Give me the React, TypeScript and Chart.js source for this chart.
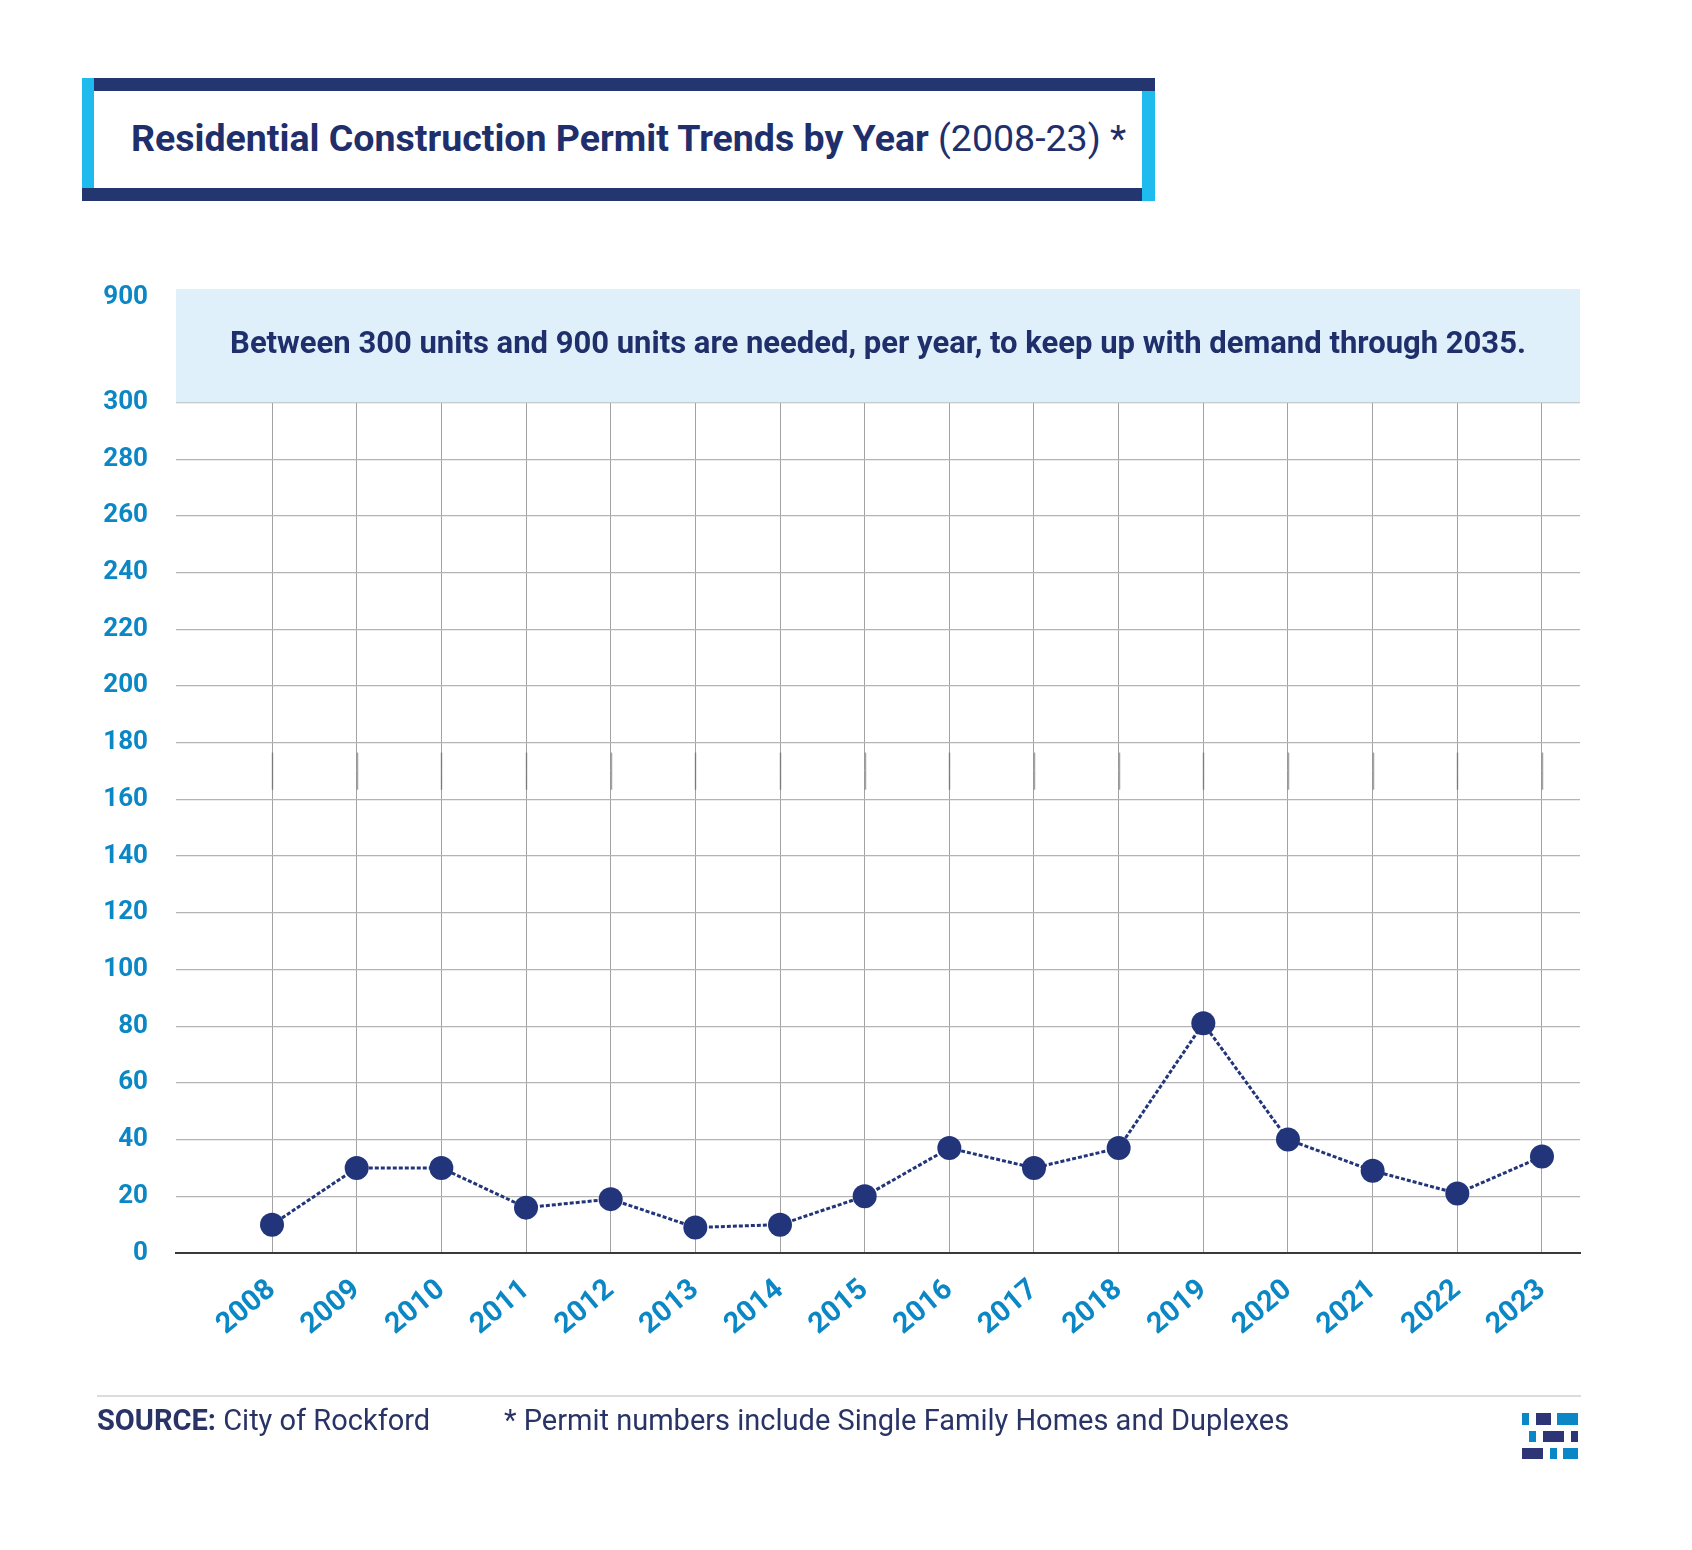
import React, { useEffect, useRef } from "react";
import { Chart, registerables } from "chart.js";

Chart.register(...registerables);

const years = [2008, 2009, 2010, 2011, 2012, 2013, 2014, 2015, 2016, 2017, 2018, 2019, 2020, 2021, 2022, 2023];
const permits = [10, 30, 30, 16, 19, 9, 10, 20, 37, 30, 37, 81, 40, 29, 21, 34];
const yTickValues = [0, 20, 40, 60, 80, 100, 120, 140, 160, 180, 200, 220, 240, 260, 280, 300];
const bandTopValue = 340;
const bandLabelValue = 337;
const bandTopLabel = "900";
const bandText = "Between 300 units and 900 units are needed, per year, to keep up with demand through 2035.";
const markFrom = 163.4;
const markTo = 176.5;

const NAVY = "#22357a";
const TEXT_NAVY = "#1f2f6b";
const TICK_BLUE = "#0a87c4";
const CYAN = "#1fbbef";
const FONT = "Roboto, 'Noto Sans', sans-serif";

const bandPlugin = {
  id: "band",
  beforeDatasetsDraw(chart: any) {
    const { ctx, chartArea, scales } = chart;
    const y300 = scales.y.getPixelForValue(300);
    ctx.save();
    // darker segments on vertical grid lines (as in the source image)
    ctx.strokeStyle = "rgba(90,90,90,0.55)";
    ctx.lineWidth = 1.5;
    const ya = scales.y.getPixelForValue(markFrom);
    const yb = scales.y.getPixelForValue(markTo);
    years.forEach((yr) => {
      const x = Math.round(scales.x.getPixelForValue(yr)) + 0.5;
      ctx.beginPath();
      ctx.moveTo(x, ya);
      ctx.lineTo(x, yb);
      ctx.stroke();
    });
    ctx.fillStyle = "#dff0fb";
    ctx.fillRect(chartArea.left, chartArea.top, chartArea.right - chartArea.left, y300 - chartArea.top);
    ctx.fillStyle = TEXT_NAVY;
    ctx.font = `bold 31px ${FONT}`;
    ctx.textAlign = "center";
    ctx.textBaseline = "middle";
    ctx.fillText(bandText, (chartArea.left + chartArea.right) / 2, (chartArea.top + y300) / 2);
    ctx.restore();
  },
};

function ChartBox() {
  const ref = useRef<HTMLCanvasElement | null>(null);
  useEffect(() => {
    if (!ref.current) return;
    const chart = new Chart(ref.current, {
      type: "line",
      data: {
        datasets: [
          {
            data: years.map((y, i) => ({ x: y, y: permits[i] })),
            borderColor: NAVY,
            borderWidth: 3,
            borderDash: [4, 2],
            pointRadius: 12,
            pointHoverRadius: 12,
            pointBackgroundColor: NAVY,
            pointBorderWidth: 0,
            tension: 0,
          },
        ],
      },
      plugins: [bandPlugin],
      options: {
        responsive: false,
        animation: false,
        layout: { padding: { left: 76, right: 112, top: 289, bottom: 147 } },
        plugins: { legend: { display: false }, tooltip: { enabled: false } },
        scales: {
          x: {
            type: "linear",
            min: 2006.866,
            max: 2023.449,
            afterBuildTicks: (axis: any) => {
              axis.ticks = years.map((v) => ({ value: v }));
            },
            afterFit: (scale: any) => {
              scale.height = 150;
            },
            grid: { color: "#a2a2a2", lineWidth: 1, drawTicks: false },
            border: { display: true, color: "#3a3a3a", width: 2 },
            ticks: {
              autoSkip: false,
              minRotation: 40,
              maxRotation: 40,
              padding: 20,
              color: TICK_BLUE,
              font: { family: FONT, size: 29, weight: "bold" },
              callback: (v: any) => String(v),
            },
          },
          y: {
            min: 0,
            max: bandTopValue,
            afterBuildTicks: (axis: any) => {
              axis.ticks = [...yTickValues, bandLabelValue].map((v) => ({ value: v }));
            },
            afterFit: (scale: any) => {
              scale.width = 100;
            },
            grid: {
              drawTicks: false,
              color: (c: any) => (c.tick && c.tick.value <= 300 && c.tick.value > 0 ? "#b4b4b4" : "transparent"),
              lineWidth: 1.2,
            },
            border: { display: false },
            ticks: {
              padding: 28,
              color: TICK_BLUE,
              font: { family: FONT, size: 26, weight: "bold" },
              callback: (v: any) => (v === bandLabelValue ? bandTopLabel : String(v)),
            },
          },
        },
      },
    });
    return () => chart.destroy();
  }, []);
  return <canvas ref={ref} width={1692} height={1550} style={{ position: "absolute", left: 0, top: 0, width: 1692, height: 1550 }} />;
}

const logoRects: [number, number, number, number, string][] = [
  [1522, 1413, 7, 12, TICK_BLUE],
  [1536, 1413, 15, 12, "#2e3577"],
  [1557, 1413, 21, 12, TICK_BLUE],
  [1529, 1431, 7, 11, TICK_BLUE],
  [1543, 1431, 21, 11, "#2e3577"],
  [1571, 1431, 7, 11, "#2e3577"],
  [1522, 1448, 21, 11, "#2e3577"],
  [1550, 1448, 7, 11, TICK_BLUE],
  [1563, 1448, 15, 11, TICK_BLUE],
];

export default function App() {
  return (
    <div style={{ position: "absolute", left: 0, top: 0, width: 1692, height: 1550, background: "#fff", fontFamily: FONT }}>
      <div style={{ position: "absolute", left: 82, top: 78, width: 1073, height: 123 }}>
        <div style={{ position: "absolute", left: 12, top: 0, width: 1061, height: 13, background: "#233670" }} />
        <div style={{ position: "absolute", left: 0, top: 0, width: 12, height: 110, background: CYAN }} />
        <div style={{ position: "absolute", left: 0, top: 110, width: 1060, height: 13, background: "#233670" }} />
        <div style={{ position: "absolute", left: 1060, top: 13, width: 13, height: 110, background: CYAN }} />
      </div>
      <div
        style={{
          position: "absolute",
          left: 131,
          top: 116,
          height: 44,
          lineHeight: "44px",
          fontSize: 37.5,
          color: TEXT_NAVY,
          whiteSpace: "nowrap",
        }}
      >
        <span style={{ fontWeight: 700 }}>Residential Construction Permit Trends by Year</span>
        <span style={{ fontWeight: 400 }}> (2008-23) *</span>
      </div>
      <ChartBox />
      <div style={{ position: "absolute", left: 97, top: 1395, width: 1484, height: 2, background: "#dcdcdc" }} />
      <div
        style={{
          position: "absolute",
          left: 97,
          top: 1402,
          lineHeight: "36px",
          fontSize: 29,
          color: "#2a3366",
          whiteSpace: "nowrap",
        }}
      >
        <span style={{ fontWeight: 700 }}>SOURCE:</span>
        <span style={{ fontWeight: 400 }}> City of Rockford</span>
      </div>
      <div
        style={{
          position: "absolute",
          left: 504,
          top: 1402,
          lineHeight: "36px",
          fontSize: 29,
          color: "#2a3366",
          whiteSpace: "nowrap",
        }}
      >
        * Permit numbers include Single Family Homes and Duplexes
      </div>
      {logoRects.map(([x, y, w, h, c], i) => (
        <div key={i} style={{ position: "absolute", left: x, top: y, width: w, height: h, background: c }} />
      ))}
    </div>
  );
}
